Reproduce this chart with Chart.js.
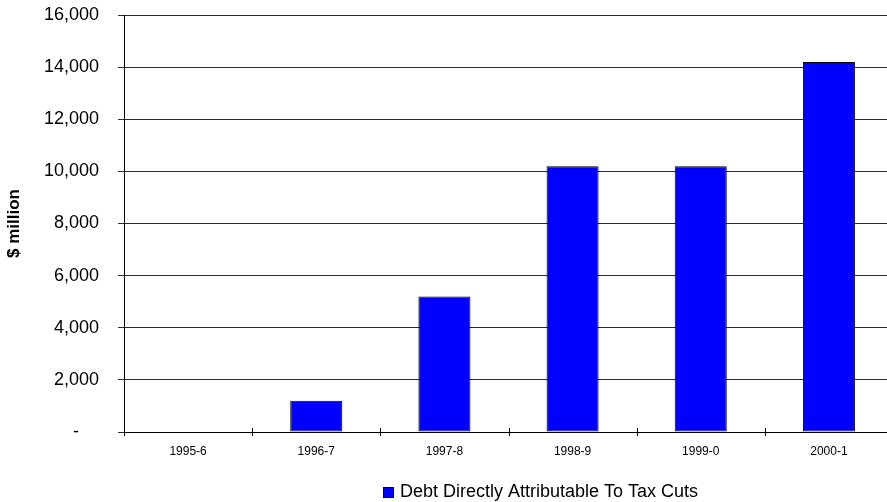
<!DOCTYPE html>
<html>
<head>
<meta charset="utf-8">
<title>Debt Directly Attributable To Tax Cuts</title>
<script src="https://cdn.jsdelivr.net/npm/chart.js@4/dist/chart.umd.min.js"></script>
<style>
  html, body { margin: 0; padding: 0; background: #fff; overflow: hidden; }
  #wrap { width: 893px; height: 502px; }
</style>
</head>
<body>
<div id="wrap"><canvas id="chart" width="893" height="502"></canvas></div>
<script>
// Financial years and debt attributable to tax cuts ($ million)
const categories = ['1995-6', '1996-7', '1997-8', '1998-9', '1999-0', '2000-1'];
const debtValues = [0, 1200, 5200, 10200, 10200, 14200];
const seriesLabel = 'Debt Directly Attributable To Tax Cuts';
const yTicks = [0, 2000, 4000, 6000, 8000, 10000, 12000, 14000, 16000];
const yTitle = '$ million';

const FONT = '"Liberation Sans", Arial, Helvetica, sans-serif';
const BAR_BLUE = '#0000FF';

// Short tick marks that cross the category axis between categories
const crossTicks = {
  id: 'crossTicks',
  afterDatasetsDraw(chart) {
    const x = chart.scales.x;
    const ctx = chart.ctx;
    const bottom = chart.chartArea.bottom;
    const half = (x.getPixelForValue(1) - x.getPixelForValue(0)) / 2;
    ctx.save();
    ctx.strokeStyle = '#000';
    ctx.lineWidth = 1;
    ctx.beginPath();
    for (let i = 0; i <= categories.length; i++) {
      const px = Math.round(x.getPixelForValue(i) - half) + 0.5;
      ctx.moveTo(px, bottom - 4);
      ctx.lineTo(px, bottom + 4);
    }
    ctx.stroke();
    ctx.restore();
  }
};

// Legend entry below the plot
const bottomLegend = {
  id: 'bottomLegend',
  afterDraw(chart) {
    const ctx = chart.ctx;
    const ds = chart.data.datasets[0];
    const boxX = 383, boxY = 487, box = 11;
    ctx.save();
    ctx.fillStyle = ds.backgroundColor;
    ctx.fillRect(boxX, boxY, box, box);
    ctx.strokeStyle = '#000';
    ctx.lineWidth = 1;
    ctx.strokeRect(boxX + 0.5, boxY + 0.5, box - 1, box - 1);
    ctx.fillStyle = '#000';
    ctx.font = '18px ' + FONT;
    ctx.textBaseline = 'alphabetic';
    ctx.textAlign = 'left';
    ctx.fillText(ds.label, boxX + 17, 497);
    ctx.restore();
  }
};

new Chart(document.getElementById('chart'), {
  type: 'bar',
  data: {
    labels: categories,
    datasets: [{
      label: seriesLabel,
      data: debtValues,
      backgroundColor: BAR_BLUE,
      borderColor: '#000',
      borderWidth: 1,
      borderSkipped: false,
      categoryPercentage: 1.0,
      barPercentage: 0.406
    }]
  },
  options: {
    responsive: false,
    animation: false,
    devicePixelRatio: 1,
    layout: { padding: { left: 0, right: 0, top: 15, bottom: 0 } },
    plugins: {
      legend: { display: false },
      tooltip: { enabled: false }
    },
    scales: {
      x: {
        offset: true,
        grid: { display: true, drawOnChartArea: false, drawTicks: false, offset: true },
        border: { display: true, color: '#000', width: 1 },
        ticks: {
          color: '#000',
          font: { family: FONT, size: 12 },
          padding: 12,
          maxRotation: 0,
          autoSkip: false
        },
        afterFit(scale) {
          scale.height = 70;
          scale.paddingLeft = 0;
          scale.paddingRight = 0;
        }
      },
      y: {
        min: 0,
        max: 16000,
        afterBuildTicks(scale) { scale.ticks = yTicks.map(v => ({ value: v })); },
        grid: { color: '#2a2a2a', lineWidth: 1, tickLength: 6, drawTicks: true },
        border: { display: true, color: '#000', width: 1 },
        ticks: {
          color: '#000',
          font: { family: FONT, size: 18 },
          padding: 19,
          callback: v => v === 0 ? '-    ' : Number(v).toLocaleString('en-US')
        },
        title: {
          display: true,
          text: yTitle,
          color: '#000',
          font: { family: FONT, size: 17, weight: 'bold' },
          padding: { top: 4, bottom: 0 }
        },
        afterFit(scale) {
          scale.width = 124;
          scale.paddingTop = 0;
          scale.paddingBottom = 0;
        }
      }
    }
  },
  plugins: [crossTicks, bottomLegend]
});
</script>
</body>
</html>
